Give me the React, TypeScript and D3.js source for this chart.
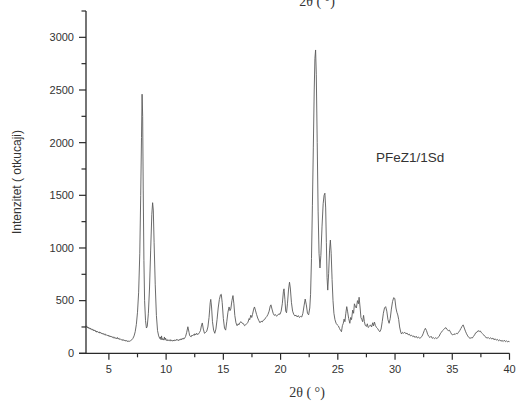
import React from "react";
import * as d3 from "d3";

const twoTheta: number[] = [
  3.00,3.05,3.10,3.15,3.20,3.25,3.30,3.35,3.40,3.45,3.50,3.55,3.60,3.65,3.70,3.75,3.80,3.85,3.90,3.95,
  4.00,4.10,4.15,4.20,4.30,4.35,4.40,4.50,4.55,4.60,4.70,4.75,4.80,4.90,4.95,5.00,5.10,5.15,5.20,5.30,
  5.35,5.40,5.50,5.55,5.60,5.70,5.75,5.80,5.90,5.95,6.00,6.10,6.15,6.20,6.30,6.35,6.40,6.50,6.55,6.60,
  6.70,6.75,6.80,6.90,7.00,7.10,7.20,7.30,7.40,7.50,7.60,7.70,7.78,7.85,7.90,7.95,8.00,8.06,8.12,8.20,
  8.28,8.35,8.45,8.55,8.65,8.75,8.82,8.88,8.95,9.05,9.15,9.25,9.35,9.45,9.50,9.55,9.60,9.65,9.70,9.80,
  9.85,9.90,9.95,10.00,10.10,10.15,10.20,10.30,10.35,10.40,10.50,10.55,10.60,10.70,10.75,10.80,10.90,10.95,11.00,11.10,
  11.15,11.20,11.30,11.35,11.40,11.50,11.55,11.60,11.70,11.80,11.90,12.00,12.05,12.10,12.20,12.25,12.30,12.40,12.45,12.50,
  12.60,12.65,12.70,12.80,12.90,13.00,13.08,13.16,13.25,13.35,13.45,13.55,13.65,13.75,13.85,13.90,13.97,14.05,14.15,14.25,
  14.35,14.45,14.55,14.65,14.75,14.82,14.90,15.00,15.10,15.20,15.30,15.40,15.50,15.58,15.65,15.75,15.84,15.92,16.00,16.10,
  16.20,16.30,16.35,16.45,16.55,16.65,16.75,16.85,16.95,17.05,17.15,17.25,17.30,17.40,17.48,17.55,17.65,17.72,17.80,17.90,
  18.00,18.10,18.20,18.30,18.40,18.50,18.60,18.70,18.80,18.90,19.00,19.10,19.16,19.25,19.35,19.45,19.55,19.65,19.75,19.85,
  19.95,20.05,20.15,20.25,20.30,20.38,20.45,20.52,20.60,20.70,20.78,20.85,20.95,21.05,21.15,21.25,21.35,21.45,21.55,21.65,
  21.75,21.85,21.95,22.05,22.15,22.25,22.35,22.45,22.55,22.62,22.70,22.78,22.86,22.94,23.00,23.06,23.12,23.20,23.28,23.36,
  23.44,23.52,23.62,23.72,23.80,23.87,23.94,24.00,24.06,24.12,24.20,24.28,24.35,24.42,24.50,24.58,24.66,24.75,24.85,24.95,
  25.05,25.15,25.25,25.32,25.40,25.48,25.55,25.62,25.70,25.78,25.85,25.95,26.05,26.12,26.20,26.30,26.38,26.45,26.55,26.62,
  26.72,26.80,26.86,26.95,27.02,27.10,27.17,27.25,27.32,27.40,27.50,27.58,27.65,27.75,27.85,27.95,28.05,28.12,28.20,28.28,
  28.38,28.48,28.58,28.68,28.78,28.88,28.98,29.08,29.18,29.28,29.38,29.48,29.58,29.68,29.78,29.88,29.98,30.08,30.16,30.24,
  30.32,30.40,30.50,30.57,30.65,30.75,30.85,30.95,31.05,31.15,31.25,31.35,31.45,31.55,31.65,31.75,31.85,31.95,32.05,32.15,
  32.25,32.35,32.45,32.55,32.65,32.75,32.85,32.95,33.05,33.15,33.25,33.35,33.45,33.55,33.65,33.75,33.85,33.95,34.05,34.15,
  34.25,34.35,34.45,34.55,34.65,34.75,34.85,34.95,35.05,35.15,35.25,35.35,35.45,35.55,35.65,35.75,35.85,35.95,36.05,36.15,
  36.25,36.35,36.45,36.55,36.65,36.75,36.85,36.95,37.05,37.15,37.25,37.35,37.45,37.55,37.65,37.75,37.85,37.95,38.05,38.15,
  38.25,38.35,38.45,38.55,38.65,38.75,38.85,38.95,39.05,39.15,39.25,39.35,39.45,39.55,39.65,39.75,39.85,39.95,40.00,
];

const counts: number[] = [
  262,250,255,240,248,236,242,230,238,226,232,220,228,215,222,212,218,205,212,200,
  208,196,204,192,198,186,192,180,188,176,182,170,176,165,172,160,166,155,162,150,
  158,146,152,140,148,138,150,136,142,130,136,126,133,122,128,118,125,115,122,112,
  118,110,116,120,128,142,165,205,275,390,580,950,1500,2050,2460,2250,1550,880,500,310,
  240,255,380,620,980,1320,1430,1360,1050,650,360,215,165,140,155,130,165,128,140,125,
  155,130,145,122,130,118,126,120,130,118,125,115,124,118,128,120,132,122,130,120,
  132,125,138,128,140,135,145,140,160,200,252,200,170,162,158,172,165,178,170,185,
  175,190,182,180,195,215,260,288,230,190,198,210,250,340,480,512,440,300,220,190,
  230,320,430,510,555,560,480,330,240,220,300,390,440,405,420,500,548,470,360,290,
  262,280,270,292,300,285,282,262,270,282,295,330,318,362,340,370,420,440,410,370,
  335,310,290,305,298,315,320,338,350,370,400,450,460,420,380,360,368,352,362,375,
  370,400,470,590,612,510,400,385,470,610,675,620,480,400,370,355,362,345,358,340,
  350,345,380,450,515,460,380,365,430,560,900,1400,1950,2500,2800,2880,2650,2000,1350,950,
  810,930,1200,1420,1500,1520,1380,1050,720,600,760,980,1075,950,700,500,380,320,285,270,
  260,235,215,205,262,285,325,300,380,443,400,330,285,340,320,410,380,470,440,430,
  500,470,532,430,340,320,300,360,300,265,255,280,245,255,270,250,290,260,297,265,
  245,235,215,205,230,300,380,430,443,400,320,285,330,420,490,528,520,430,390,364,
  320,250,200,183,200,190,200,185,192,175,182,165,172,158,165,150,162,145,155,142,
  150,160,185,215,237,215,180,160,150,162,142,150,138,148,140,150,160,185,200,215,
  225,238,243,225,215,220,200,180,174,185,178,190,185,200,215,235,255,270,240,210,
  185,165,150,142,148,145,160,175,195,200,215,208,212,195,185,175,160,150,145,150,
  138,148,135,145,128,138,125,132,118,128,115,122,112,125,110,118,108,115,110,
];

const yMajorTicks = [0, 500, 1000, 1500, 2000, 2500, 3000];
const yMinorTicks = [250, 750, 1250, 1750, 2250, 2750, 3250];
const xMajorTicks = [5, 10, 15, 20, 25, 30, 35, 40];
const xMinorTicks = [7.5, 12.5, 17.5, 22.5, 27.5, 32.5, 37.5];

const sampleLabel = "PFeZ1/1Sd";
const xTitle = "2θ ( °)";
const yTitle = "Intenzitet  ( otkucaji)";

export default function App() {
  const W = 516, H = 403;
  const left = 86, right = 509.5, top = 11, bottom = 353.3;
  const x = d3.scaleLinear().domain([3, 40]).range([left, right]);
  const y = d3.scaleLinear().domain([0, 3250]).range([bottom, top]);
  const pts: [number, number][] = twoTheta.map((t, i) => [t, counts[i]]);
  const line = d3.line<[number, number]>().x(d => x(d[0])).y(d => y(d[1]));
  const axisColor = "#2a2a2a";
  const sans = "'Liberation Sans', Arial, sans-serif";
  const serif = "'Liberation Serif', 'Times New Roman', serif";
  return (
    <svg width={W} height={H} style={{ position: "absolute", left: 0, top: 0, background: "#fff" }}>
      <rect width={W} height={H} fill="#fff" />
      <text x={317} y={6} fontFamily={serif} fontSize={14} textAnchor="middle" fill="#333">{xTitle}</text>
      <path d={line(pts) || ""} fill="none" stroke="#5a5a5a" strokeWidth={0.9} strokeLinejoin="round" />
      <line x1={left} x2={left} y1={top} y2={bottom} stroke={axisColor} strokeWidth={1.3} />
      <line x1={left - 7} x2={right} y1={bottom} y2={bottom} stroke={axisColor} strokeWidth={1.3} />
      {yMajorTicks.map(v => (
        <g key={"ym" + v}>
          <line x1={left - 7} x2={left} y1={y(v)} y2={y(v)} stroke={axisColor} strokeWidth={1.2} />
          <text x={left - 12} y={y(v)} dy="0.35em" textAnchor="end" fontFamily={sans} fontSize={11} fill="#333">{v}</text>
        </g>
      ))}
      {yMinorTicks.map(v => (
        <line key={"yn" + v} x1={left - 4.5} x2={left} y1={y(v)} y2={y(v)} stroke={axisColor} strokeWidth={1.2} />
      ))}
      {xMajorTicks.map(v => (
        <g key={"xm" + v}>
          <line x1={x(v)} x2={x(v)} y1={bottom} y2={bottom + 6.5} stroke={axisColor} strokeWidth={1.2} />
          <text x={x(v)} y={372.5} textAnchor="middle" fontFamily={sans} fontSize={11} fill="#333">{v}</text>
        </g>
      ))}
      {xMinorTicks.map(v => (
        <line key={"xn" + v} x1={x(v)} x2={x(v)} y1={bottom} y2={bottom + 4} stroke={axisColor} strokeWidth={1.2} />
      ))}
      <text x={307} y={397} fontFamily={serif} fontSize={14} textAnchor="middle" fill="#333">{xTitle}</text>
      <text transform="translate(21,182) rotate(-90)" textAnchor="middle" fontFamily={sans} fontSize={12} fill="#333">{yTitle}</text>
      <text x={376} y={162} fontFamily={sans} fontSize={13.5} fill="#333">{sampleLabel}</text>
    </svg>
  );
}
